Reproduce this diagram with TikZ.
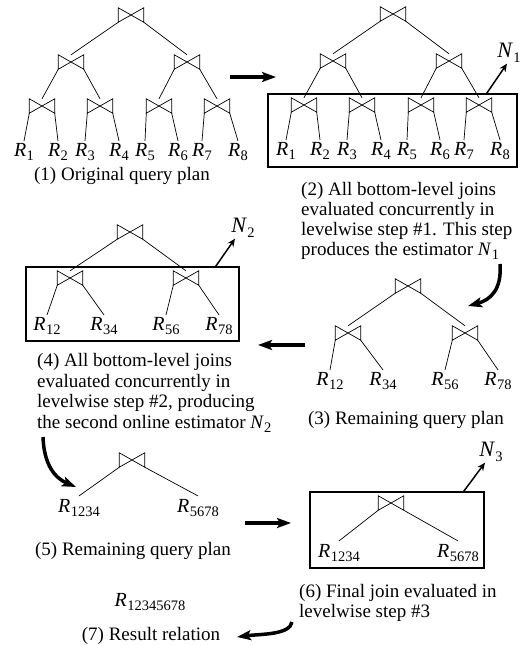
\documentclass[tikz,border=0pt]{standalone}
\usepackage{fontspec}
\setmainfont{Liberation Serif}
\usetikzlibrary{arrows.meta}

\newcommand\rel[1]{\textit{R}\kern0.3pt\raisebox{-4.5pt}{\fontsize{14.5}{14.5}\selectfont #1}}
\newcommand\est[1]{\textit{N}\kern0.3pt\raisebox{-4.5pt}{\fontsize{14.5}{14.5}\selectfont #1}}

\begin{document}
\begin{tikzpicture}[x=1pt, y=-1pt,
    every node/.style={font=\fontsize{19}{20.5}\selectfont},
    joinop/.style={minimum width=25pt, minimum height=14pt, inner sep=0pt,
      append after command={\pgfextra{\draw[line width=0.7pt] (\tikzlastnode.south west) -- (\tikzlastnode.north east) -- (\tikzlastnode.south east) -- (\tikzlastnode.north west) -- cycle;}}},
    leaf/.style={inner sep=2pt, font=\fontsize{20}{20}\selectfont},
    estlabel/.style={inner sep=1pt, font=\fontsize{22}{22}\selectfont},
    treeline/.style={line width=0.7pt},
    stepbox/.style={draw, line width=1.6pt, inner sep=0pt},
    capt/.style={align=left, anchor=base west, inner sep=0pt},
    flow/.style={line width=3.5pt, -{Stealth[length=14pt, width=10pt, inset=3pt]}},
    estarrow/.style={line width=1.5pt, -{Stealth[length=8pt, width=7pt]}}]
    \useasboundingbox (0,0) rectangle (526,646);

    % Plans (1) and (2): the full eight-way join tree
    \foreach \p/\dx/\dy in {a/0/0, b/262/-1} {
      \begin{scope}[shift={(\dx,\dy)}]
        \node[joinop] (\p0) at (131,15) {};
        \node[joinop] (\p1) at (71,62) {};
        \node[joinop] (\p2) at (187,62) {};
        \node[joinop] (\p3) at (42,106) {};
        \node[joinop] (\p4) at (100,106) {};
        \node[joinop] (\p5) at (159,106) {};
        \node[joinop] (\p6) at (217,106) {};
        \foreach \i/\x in {1/24, 2/58, 3/85, 4/119, 5/145, 6/178, 7/202, 8/238}
          \node[leaf] (\p r\i) at (\x,152) {\rel{\i}};
      \end{scope}
      \foreach \u/\v/\w in {0/1/2, 1/3/4, 2/5/6} {
        \draw[treeline] (\p\u.south west) -- (\p\v.north);
        \draw[treeline] (\p\u.south east) -- (\p\w.north);
      }
      \foreach \u/\v/\w in {3/1/2, 4/3/4, 5/5/6, 6/7/8} {
        \draw[treeline] (\p\u.south west) -- (\p r\v.north);
        \draw[treeline] (\p\u.south east) -- (\p r\w.north);
      }
    }
    \node[capt, anchor=base] (cap1) at (122,180) {(1) Original query plan};

    % Step #1 box and estimator N1
    \node[stepbox, minimum width=249pt, minimum height=73pt] (box2) at (392.5,130.5) {};
    \node[estlabel] (n1) at (509,53) {\est{1}};
    \draw[estarrow] ([xshift=-31pt]box2.north east) -- ([xshift=-2pt]n1.south);
    % (the base of a multi-line node is its last line)
    \node[capt, font=\fontsize{19}{20}\selectfont] (cap2) at (301,255) {(2) All bottom-level joins\\
      evaluated concurrently in\\ levelwise step \#1. This step\\
      produces the estimator \est{1}};

    % Plan (3): remaining four-way tree
    \node[joinop] (c0) at (408,286) {};
    \node[joinop] (c1) at (348,333) {};
    \node[joinop] (c2) at (465,333) {};
    \node[leaf] (c12) at (330,381) {\rel{12}};
    \node[leaf] (c34) at (383,381) {\rel{34}};
    \node[leaf] (c56) at (445,381) {\rel{56}};
    \node[leaf] (c78) at (498,381) {\rel{78}};
    \node[capt, anchor=base] (cap3) at (406,424) {(3) Remaining query plan};

    % Plan (4): same tree, step #2 boxed
    \node[joinop] (d0) at (130,232) {};
    \node[joinop] (d1) at (70,278) {};
    \node[joinop] (d2) at (186,278) {};
    \node[leaf] (d12) at (47,326) {\rel{12}};
    \node[leaf] (d34) at (104,326) {\rel{34}};
    \node[leaf] (d56) at (166,326) {\rel{56}};
    \node[leaf] (d78) at (219,326) {\rel{78}};
    \node[stepbox, minimum width=213pt, minimum height=74pt] (box4) at (132.5,304) {};
    \node[estlabel] (n2) at (243,228) {\est{2}};
    \draw[estarrow] ([xshift=-24pt]box4.north east) -- ([xshift=-8pt]n2.south);
    \node[capt] (cap4) at (37,428) {(4) All bottom-level joins\\
      evaluated concurrently in\\ levelwise step \#2, producing\\
      the second online estimator \est{2}};

    \foreach \t in {c, d} {
      \draw[treeline] (\t0.south west) -- (\t1.north);
      \draw[treeline] (\t0.south east) -- (\t2.north);
      \draw[treeline] (\t1.south west) -- (\t12.north);
      \draw[treeline] (\t1.south east) -- (\t34.north);
      \draw[treeline] (\t2.south west) -- (\t56.north);
      \draw[treeline] (\t2.south east) -- (\t78.north);
    }

    % Plan (5): one join left
    \node[joinop] (e0) at (132,460) {};
    \node[leaf, inner sep=3pt] (e1) at (79,508) {\rel{1234}};
    \node[leaf, inner sep=3pt] (e2) at (198,508) {\rel{5678}};
    \draw[treeline] (e0.south west) -- (e1.north);
    \draw[treeline] (e0.south east) -- (e2.north);
    \node[capt, anchor=base] (cap5) at (133,555) {(5) Remaining query plan};

    % Plan (6): final join, step #3 boxed
    \node[joinop] (f0) at (391,503) {};
    \node[leaf, inner sep=3pt] (f1) at (339,553) {\rel{1234}};
    \node[leaf, inner sep=3pt] (f2) at (458,553) {\rel{5678}};
    \draw[treeline] (f0.south west) -- (f1.north);
    \draw[treeline] (f0.south east) -- (f2.north);
    \node[stepbox, minimum width=174pt, minimum height=76pt] (box6) at (397,530) {};
    \node[estlabel] (n3) at (491,452) {\est{3}};
    \draw[estarrow] ([xshift=-21pt]box6.north east) -- ([xshift=-6pt]n3.south);
    \node[capt, font=\fontsize{19}{20}\selectfont] (cap6) at (299,617) {(6) Final join evaluated in\\ levelwise step \#3};

    % (7) result
    \node[leaf] (res) at (150,602) {\rel{12345678}};
    \node[capt, anchor=base] (cap7) at (151,640) {(7) Result relation};

    % flow between the steps
    \coordinate (f12a) at (230,77);  \coordinate (f12b) at (276,77);
    \coordinate (f23a) at (500,264); \coordinate (f23b) at (468,306);
    \coordinate (f34a) at (305,345); \coordinate (f34b) at (258,345);
    \coordinate (f45a) at (43,437);  \coordinate (f45b) at (76,487);
    \coordinate (f56a) at (245,523); \coordinate (f56b) at (291,523);
    \coordinate (f67a) at (292,622); \coordinate (f67b) at (237,637);
    \draw[flow] (f12a) -- (f12b);
    \draw[flow] (f23a) .. controls (502,290) and (490,300) .. (f23b);
    \draw[flow] (f34a) -- (f34b);
    \draw[flow] (f45a) .. controls (44,465) and (55,478) .. (f45b);
    \draw[flow] (f56a) -- (f56b);
    \draw[flow] (f67a) .. controls (290,635) and (260,634) .. (f67b);
\end{tikzpicture}
\end{document}
